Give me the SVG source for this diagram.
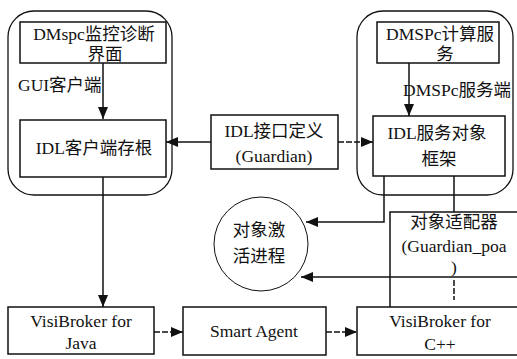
<svg xmlns="http://www.w3.org/2000/svg" width="517" height="359" viewBox="0 0 517 359">
<style>
text{font-family:"Liberation Serif","Noto Sans CJK SC",serif;font-size:17.5px;fill:#111;text-anchor:middle}
.box{fill:#fff;stroke:#111;stroke-width:1.5}
.cont{fill:none;stroke:#111;stroke-width:1.3}
.ln{fill:none;stroke:#111;stroke-width:1.5}
.dash{stroke-dasharray:6 2}
</style>
<defs>
<marker id="ah" viewBox="0 0 12 10" refX="12" refY="5" markerWidth="12" markerHeight="10" markerUnits="userSpaceOnUse" orient="auto">
<path d="M0,0 L12,5 L0,10 Z" fill="#111"/>
</marker>
</defs>
<rect width="517" height="359" fill="#fff"/>
<g id="client-container"><rect class="cont" x="8" y="11" width="164" height="184" rx="26"/></g>
<g id="server-container"><rect class="cont" x="357" y="11" width="156" height="184" rx="26"/></g>
<g id="connectors">
<path class="ln" d="M103,63 V119" marker-end="url(#ah)"/>
<path class="ln" d="M409,63 V116" marker-end="url(#ah)"/>
<path class="ln" d="M211,142 H166" marker-end="url(#ah)"/>
<path class="ln dash" d="M338,142 H373" marker-end="url(#ah)"/>
<path class="ln" d="M103,177 V307" marker-end="url(#ah)"/>
<path class="ln" d="M384,176 V222 H306" marker-end="url(#ah)"/>
<path class="ln" d="M517,277 H301" marker-end="url(#ah)"/>
<path class="ln" d="M454,176 V212"/>
<path class="ln dash" d="M454,280 V300"/>
<path class="ln dash" d="M154,332 H183" marker-end="url(#ah)"/>
<path class="ln dash" d="M326,332 H357" marker-end="url(#ah)"/>
</g>
<g id="gui-label"><text x="18" y="91" style="text-anchor:start">GUI客户端</text></g>
<g id="server-label"><text x="403" y="96" style="text-anchor:start">DMSPc服务端</text></g>
<g id="dmspc-monitor"><rect class="box" x="20" y="22" width="146" height="41"/><text x="94" y="40">DMspc监控诊断</text><text x="105" y="60">界面</text></g>
<g id="dmspc-compute"><rect class="box" x="377" y="22" width="122" height="41"/><text x="440" y="40">DMSPc计算服</text><text x="445" y="60">务</text></g>
<g id="idl-stub"><rect class="box" x="20" y="120" width="146" height="57"/><text x="94" y="154">IDL客户端存根</text></g>
<g id="idl-interface"><rect class="box" x="211" y="115" width="127" height="54"/><text x="274" y="137">IDL接口定义</text><text x="274" y="162">(Guardian)</text></g>
<g id="idl-skeleton"><rect class="box" x="373" y="116" width="132" height="60"/><text x="437" y="139">IDL服务对象</text><text x="439" y="165">框架</text></g>
<g id="activation"><circle cx="261" cy="244" r="47" fill="#fff" stroke="#111" stroke-width="1"/><text x="259" y="236">对象激</text><text x="259" y="262">活进程</text></g>
<g id="adapter"><path class="ln" d="M517,212 H390 V307"/><text x="454" y="228">对象适配器</text><text x="454" y="252">(Guardian_poa</text><text x="454" y="273">)</text></g>
<g id="vb-java"><rect class="box" x="8" y="307" width="146" height="47"/><text x="81" y="327">VisiBroker for</text><text x="81" y="349">Java</text></g>
<g id="smart-agent"><rect class="box" x="183" y="307" width="143" height="48"/><text x="254" y="337">Smart Agent</text></g>
<g id="vb-cpp"><path class="box" d="M517,307 H357 V355 H517"/><text x="440" y="327">VisiBroker for</text><text x="440" y="350">C++</text></g>
</svg>
